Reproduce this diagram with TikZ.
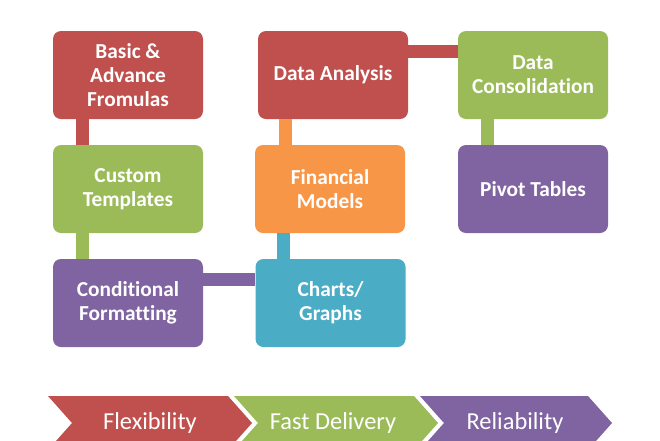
\documentclass[tikz,border=0pt]{standalone}
\usepackage{fontspec}
\setmainfont[Ligatures={NoCommon}]{Carlito}
\usetikzlibrary{calc}
\definecolor{ored}{HTML}{C0504D}
\definecolor{ogreen}{HTML}{9BBB59}
\definecolor{opurple}{HTML}{8064A2}
\definecolor{oorange}{HTML}{F79646}
\definecolor{oaqua}{HTML}{4BACC6}
\begin{document}
\begin{tikzpicture}[x=0.75pt,y=-0.75pt,
  box/.style={rounded corners=6pt, minimum width=112.5pt, minimum height=66pt,
    inner sep=0pt, align=center, text=white,
    font=\bfseries\fontsize{16}{18}\selectfont},
  bar/.style={line width=10pt},
  chev/.style={text=white, font=\fontsize{18.3}{20}\selectfont, inner sep=0pt}]
\useasboundingbox (0,0) rectangle (660,440);
\clip (0,0) rectangle (660,440);
\fill[white] (0,0) rectangle (660,440);

\node[box, fill=ored] (basic) at (128,75) {Basic \&\\Advance\\Fromulas};
\node[box, fill=ogreen] (custom) at (128,189) {Custom\\Templates};
\node[box, fill=opurple] (cond) at (128,303) {Conditional\\Formatting};
\node[box, fill=ored] (da) at (333,75) {Data Analysis};
\node[box, fill=oorange] (fm) at (330,189) {Financial\\Models};
\node[box, fill=oaqua] (cg) at (330.5,303) {Charts/\\Graphs};
\node[box, fill=ogreen] (dc) at (533,75) {Data\\Consolidation};
\node[box, fill=opurple] (pt) at (533,189) {Pivot Tables};

\coordinate (b1) at ($(basic.south west)+(30,0)$);
\draw[bar, ored] (b1) -- (b1 |- custom.north);
\coordinate (b2) at ($(custom.south west)+(30,0)$);
\draw[bar, ogreen] (b2) -- (b2 |- cond.north);
\coordinate (b3) at ($(cond.north east)+(0,20.5)$);
\draw[bar, opurple] (b3) -- (b3 -| cg.west);
\coordinate (b4) at ($(fm.south west)+(29,0)$);
\draw[bar, oaqua] (b4) -- (b4 |- cg.north);
\coordinate (b5) at ($(fm.north west)+(31,0)$);
\draw[bar, oorange] (b5) -- (b5 |- da.south);
\coordinate (b6) at ($(da.north east)+(0,20.5)$);
\draw[bar, ored] (b6) -- (b6 -| dc.west);
\coordinate (b7) at ($(dc.south west)+(29.5,0)$);
\draw[bar, ogreen] (b7) -- (b7 |- pt.north);

\fill[ored] (48,396) -- (228,396) -- (252,423) -- (228,450) -- (48,450) -- (72,423) -- cycle;
\fill[ogreen] (234,396) -- (414,396) -- (438,423) -- (414,450) -- (234,450) -- (258,423) -- cycle;
\fill[opurple] (420,396) -- (588,396) -- (612,423) -- (588,450) -- (420,450) -- (444,423) -- cycle;
\node[chev] (flex) at (150,423) {Flexibility};
\node[chev] (fast) at (333,423) {Fast Delivery};
\node[chev] (rel) at (515,423) {Reliability};
\end{tikzpicture}
\end{document}
